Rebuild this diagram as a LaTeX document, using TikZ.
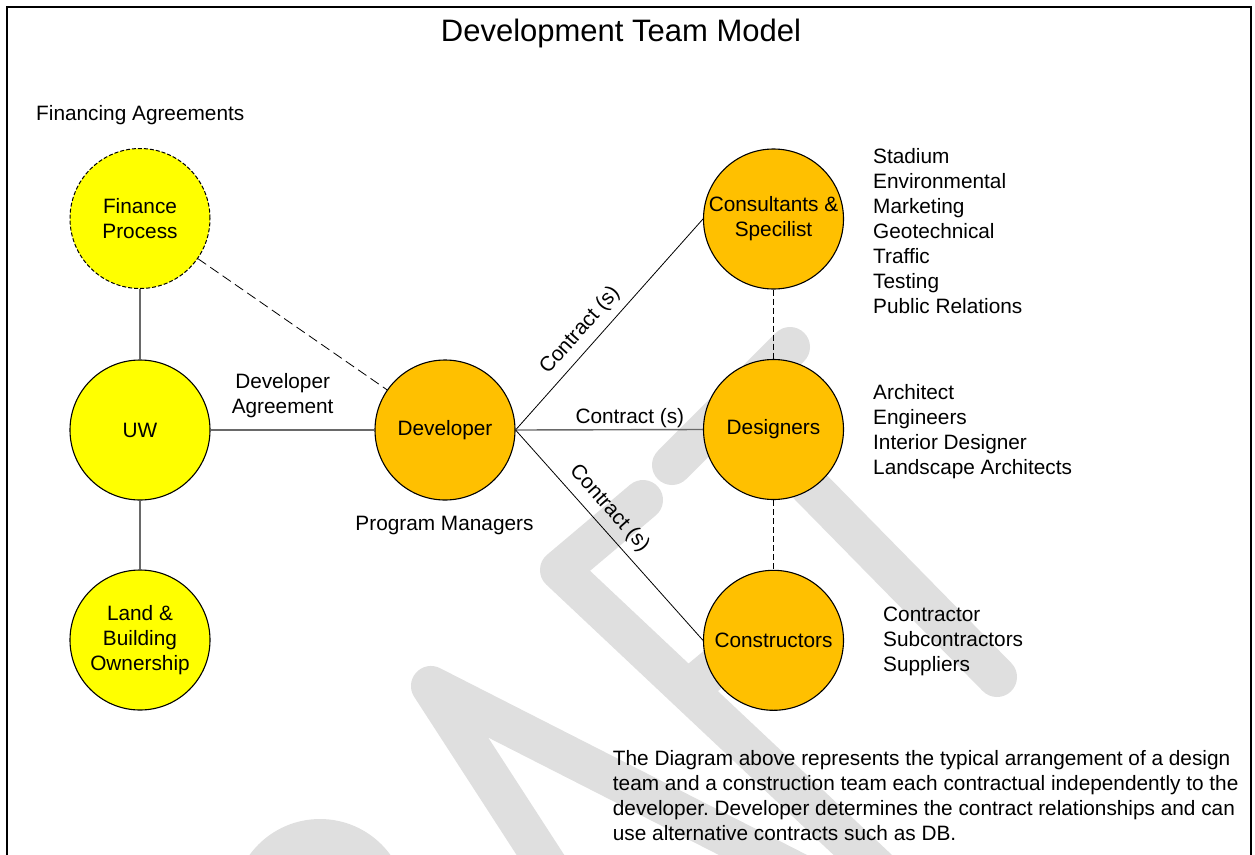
\documentclass[tikz,border=0pt]{standalone}
\usepackage{fontspec}
\setmainfont{Liberation Sans}
\frenchspacing
\definecolor{nodeyellow}{HTML}{FFFF00}
\definecolor{nodeorange}{HTML}{FFC000}
\definecolor{wmgray}{RGB}{223,223,223}
\definecolor{linkgray}{RGB}{105,105,105}

\begin{document}
\begin{tikzpicture}[x=1pt,y=-1pt,
  every node/.style={font=\fontsize{20.8}{25}\selectfont},
  party/.style={circle, draw=black, line width=1.1pt, minimum size=140pt,
                inner sep=0pt, align=center},
  yellowparty/.style={party, fill=nodeyellow},
  orangeparty/.style={party, fill=nodeorange},
  wm/.style={draw=wmgray, line width=40pt, line cap=round, line join=round},
  link/.style={draw=linkgray, line width=1.4pt},
  contract/.style={draw=black, line width=0.8pt},
  tie/.style={draw=black, line width=0.8pt, dash pattern=on 6pt off 3pt},
  fundline/.style={draw=black, line width=0.8pt, dash pattern=on 10pt off 5pt},
  note/.style={inner sep=0pt, anchor=north west, align=left},
  clabel/.style={sloped, anchor=south, inner xsep=0pt, inner ysep=8pt, outer sep=0pt},
  hlabel/.style={anchor=south, inner xsep=0pt, inner ysep=1.6pt, outer sep=0pt}
]
\path[use as bounding box, clip] (0,0) rectangle (1255,854);

% faint watermark lettering in the background
\draw[wm] (672,465) -- (790,347);
\draw[wm] (731,406) -- (997,677);
\draw[wm] (643,500) -- (560,570) -- (900,890);
\draw[wm] (688,690) -- (760,630);
\draw[wm] (877,913) -- (431,686) -- (567,896);
\draw[wm] (320,906) circle[radius=67];

% page frame
\draw[line width=2pt] (7,7) rectangle (1251,900);

% title and side notes
\node[anchor=base, font=\fontsize{31}{37}\selectfont] (title) at (621,41) {Development Team Model};
\node[anchor=base west, inner sep=0pt] (finnote) at (36,120) {Financing Agreements};

% parties
\node[yellowparty, draw=black, line width=1pt, dash pattern=on 4pt off 2pt] (fin) at (140,218.5) {Finance\\Process};
\node[yellowparty] (uw) at (140,430) {UW};
\node[yellowparty] (land) at (140,640) {Land \&\\Building\\Ownership};
\node[orangeparty] (dev) at (445,430) {Developer};
\node[orangeparty] (cons) at (773.5,219) {Consultants \&\\Specilist};
\node[orangeparty] (des) at (773.5,429.5) {Designers};
\node[orangeparty] (build) at (773.5,640.3) {Constructors};

% relationships
\draw[link] (fin) -- (uw);
\draw[link] (uw) -- (land);
\draw[link] (uw) -- node[pos=0.44, anchor=south, inner sep=0pt, outer sep=0pt, yshift=12.6pt, align=center] (agree) {Developer\\Agreement} (dev);
\draw[fundline] (fin) -- (dev);
\draw[contract] (dev.east) -- node[pos=0.415, clabel] (c1) {Contract (s)} (cons.west);
\draw[link] (dev.east) -- node[pos=0.61, hlabel] (c2) {Contract (s)} (des.west);
\draw[contract] (dev.east) -- node[pos=0.43, clabel] (c3) {Contract (s)} (build.west);
\draw[tie] (cons) -- (des);
\draw[tie] (des) -- (build);

% captions
\node[anchor=base, inner sep=0pt] (pm) at (444.5,530) {Program Managers};
\node[note] (conslist) at (873,148.5) {Stadium\\Environmental\\Marketing\\Geotechnical\\Traffic\\Testing\\Public Relations};
\node[note] (deslist) at (873,384) {Architect\\Engineers\\Interior Designer\\Landscape Architects};
\node[note] (buildlist) at (883,607) {Contractor\\Subcontractors\\Suppliers};
\node[note] (para) at (612.7,750) {The Diagram above represents the typical arrangement of a design\\
team and a construction team each contractual independently to the\\
developer. Developer determines the contract relationships and can\\
use alternative contracts such as DB.};
\end{tikzpicture}
\end{document}
